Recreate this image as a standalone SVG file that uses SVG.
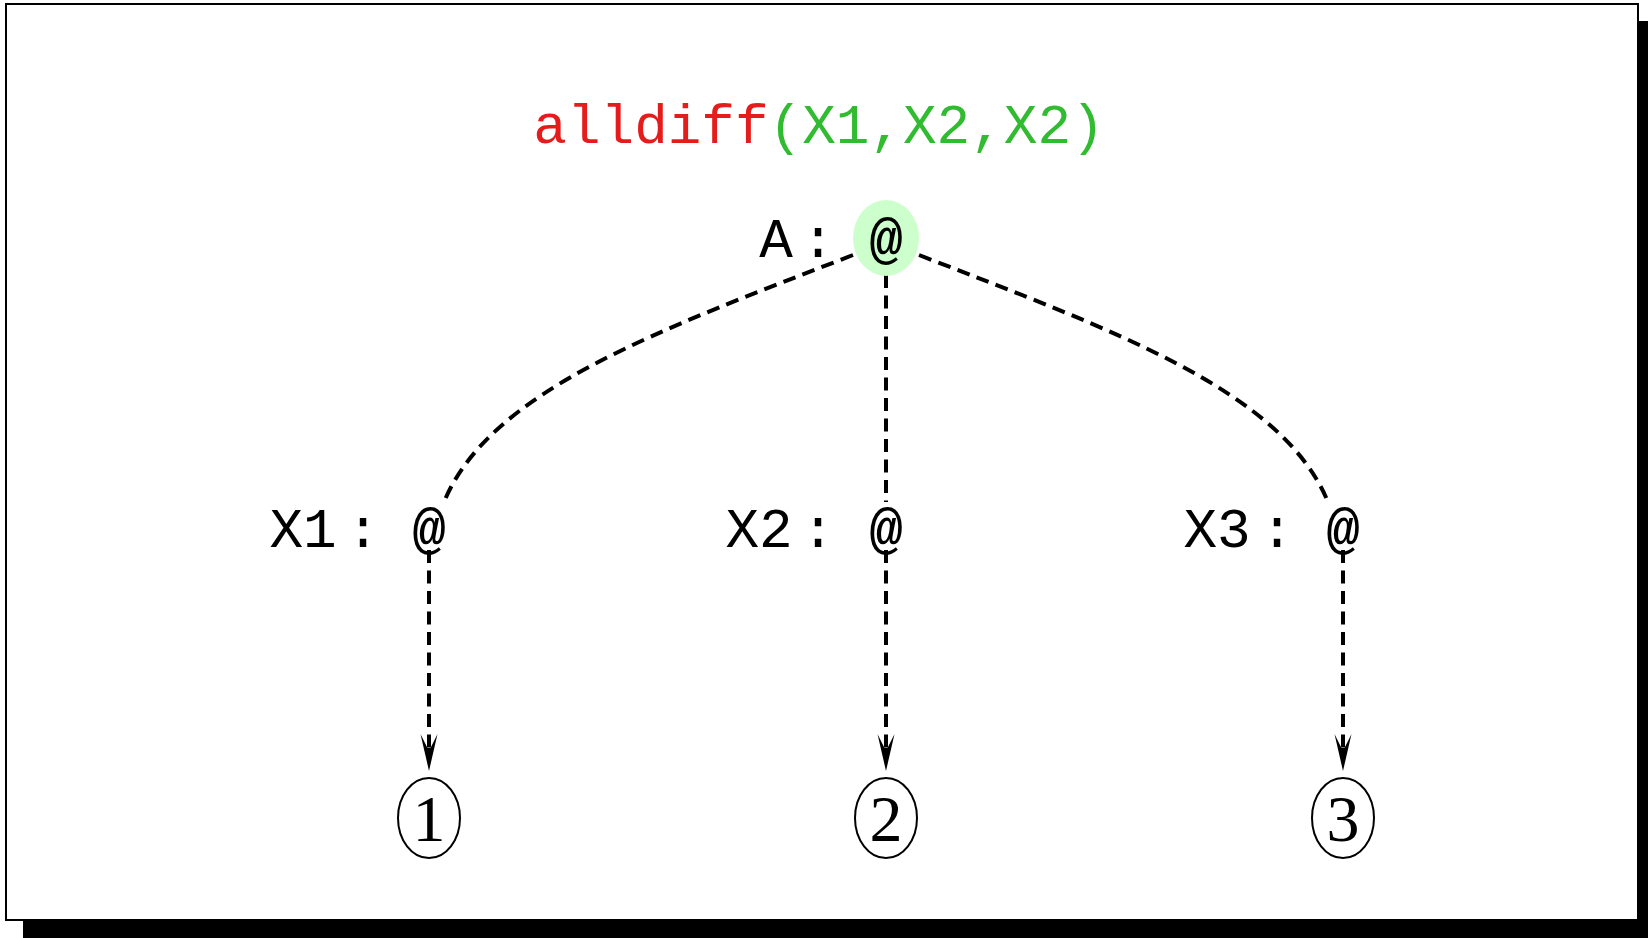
<svg xmlns="http://www.w3.org/2000/svg" width="1648" height="938" viewBox="0 0 1648 938">
<style>
.mono{font-family:"Liberation Mono","DejaVu Sans Mono",monospace;font-size:56px;fill:#000;text-anchor:middle}
.num{font-family:"Liberation Serif","DejaVu Serif",serif;font-size:66px;fill:#000;text-anchor:middle}
.edge{fill:none;stroke:#000;stroke-width:4;stroke-dasharray:13,7.5}
.circ{fill:#fff;stroke:#000;stroke-width:2}
</style>
<defs>
<marker id="arr" markerUnits="userSpaceOnUse" markerWidth="40" markerHeight="20" refX="37" refY="9" orient="auto" viewBox="0 0 40 18">
<path d="M37 9 L0 0.5 L14 7.5 L14 10.5 L0 17.5 Z" fill="#000"/>
</marker>
</defs>
<rect x="23" y="21" width="1632" height="917" fill="#000"/>
<rect x="6" y="4" width="1632" height="916" fill="#fff" stroke="#000" stroke-width="2"/>
<g id="title">
<text x="819" y="143" style="font-family:'Liberation Mono','DejaVu Sans Mono',monospace;font-size:56px" text-anchor="middle"><tspan fill="#e41c1c">alldiff</tspan><tspan fill="#30bb30">(X1,X2,X2)</tspan></text>
</g>
<g id="connectors">
<path class="edge" d="M853 255 C660 330 490 390 444 502"/>
<path class="edge" d="M886 275 L886 502"/>
<path class="edge" d="M919 255 C1112 330 1282 390 1328 502"/>
<path class="edge" d="M429 550 L429 750"/>
<path class="edge" d="M886 550 L886 750"/>
<path class="edge" d="M1343 550 L1343 750"/>
<path d="M429 730 L429 771" stroke="none" fill="none" marker-end="url(#arr)"/>
<path d="M886 730 L886 771" stroke="none" fill="none" marker-end="url(#arr)"/>
<path d="M1343 730 L1343 771" stroke="none" fill="none" marker-end="url(#arr)"/>
</g>
<g id="nodeA">
<ellipse cx="886" cy="238" rx="33" ry="38" fill="#ccffcc"/>
<text class="mono" x="776" y="257">A</text>
<text class="mono" x="818" y="257">:</text>
<text class="mono" x="886" y="257" font-weight="bold">@</text>
</g>
<g id="nodeX1">
<text class="mono" x="303" y="547">X1</text>
<text class="mono" x="363" y="547">:</text>
<text class="mono" x="429" y="547" font-weight="bold">@</text>
</g>
<g id="nodeX2">
<text class="mono" x="759" y="547">X2</text>
<text class="mono" x="818" y="547">:</text>
<text class="mono" x="886" y="547" font-weight="bold">@</text>
</g>
<g id="nodeX3">
<text class="mono" x="1217" y="547">X3</text>
<text class="mono" x="1277" y="547">:</text>
<text class="mono" x="1343" y="547" font-weight="bold">@</text>
</g>
<g id="v1">
<ellipse class="circ" cx="429" cy="818" rx="31" ry="40"/>
<text class="num" x="429" y="841">1</text>
</g>
<g id="v2">
<ellipse class="circ" cx="886" cy="818" rx="31" ry="40"/>
<text class="num" x="886" y="841">2</text>
</g>
<g id="v3">
<ellipse class="circ" cx="1343" cy="818" rx="31" ry="40"/>
<text class="num" x="1343" y="841">3</text>
</g>
</svg>
